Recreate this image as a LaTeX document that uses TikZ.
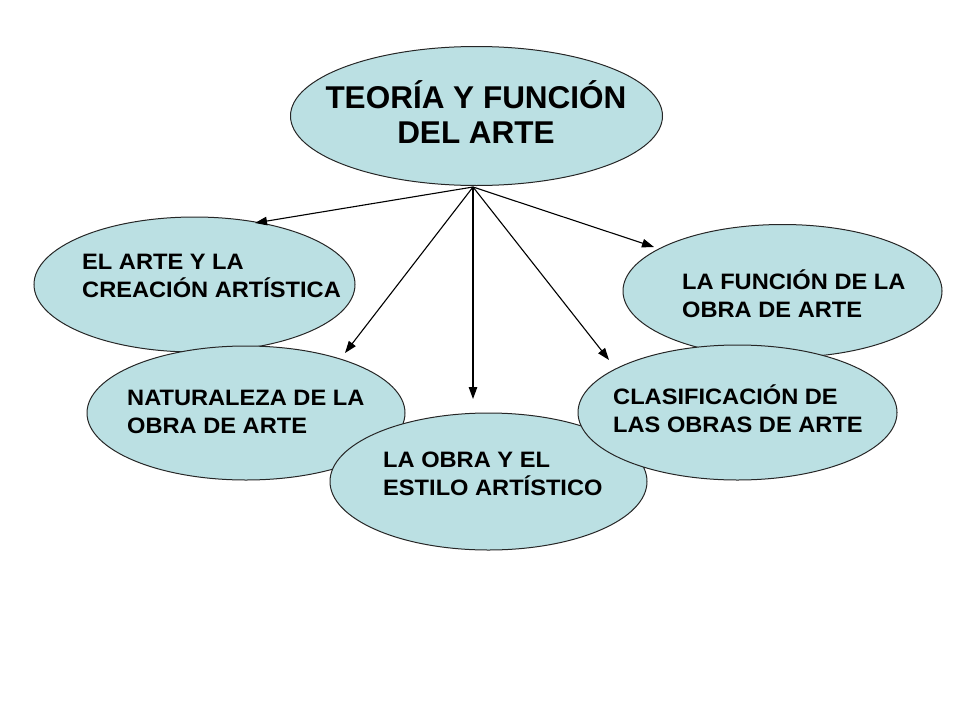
\documentclass[tikz,border=0pt]{standalone}
\usepackage{fontspec}
\setmainfont{Liberation Sans}
\newfontfamily\boxfont{Liberation Sans}[FakeStretch=1.06]
\usetikzlibrary{arrows.meta,%
                shapes.geometric}
\definecolor{pptfill}{RGB}{187,224,227}

\tikzset{
  tema/.style={ellipse, draw=black!85, line width=1pt, fill=pptfill, inner sep=0pt},
  titulo/.style={anchor=base, align=center, inner sep=0pt,
    font=\bfseries\fontsize{31.5}{35}\selectfont},
  rotulo/.style={anchor=base west, align=left, inner sep=0pt,
    font=\boxfont\bfseries\fontsize{22.3}{28}\selectfont},
  flecha/.style={line width=1.1pt, -{Triangle[length=12pt,width=8.5pt]}}
}

\begin{document}
\begin{tikzpicture}[x=1pt, y=-1pt]
\useasboundingbox (0,0) rectangle (960,720);

\node[tema, minimum width=372pt, minimum height=139pt] (teoria) at (476.5,116) {};
\node[titulo] (teoria-txt) at (476,143) {TEORÍA Y FUNCIÓN\\DEL ARTE};

\node[tema, minimum width=321pt, minimum height=135pt] (creacion) at (194.5,284.5) {};
\node[rotulo] (creacion-txt) at (82,297) {EL ARTE Y LA\\CREACIÓN ARTÍSTICA};

\node[tema, minimum width=319pt, minimum height=133pt] (funcion) at (782.5,291) {};
\node[rotulo] (funcion-txt) at (682,317) {LA FUNCIÓN DE LA\\OBRA DE ARTE};

\node[tema, minimum width=318pt, minimum height=134pt] (naturaleza) at (246,413) {};
\node[rotulo] (naturaleza-txt) at (127,433) {NATURALEZA DE LA\\OBRA DE ARTE};

\node[tema, minimum width=317pt, minimum height=137pt] (estilo) at (488.5,481.5) {};
\node[rotulo] (estilo-txt) at (383,495) {LA OBRA Y EL\\ESTILO ARTÍSTICO};

\node[tema, minimum width=319pt, minimum height=135pt] (clasificacion) at (737.5,412.5) {};
\node[rotulo] (clasificacion-txt) at (613,432) {CLASIFICACIÓN DE\\LAS OBRAS DE ARTE};

\coordinate (raiz) at ([xshift=-3.5pt, yshift=-1pt]teoria.south);
\coordinate (creacion-in) at (255,223);
\coordinate (naturaleza-in) at (345,353);
\coordinate (estilo-in) at (473,399);
\coordinate (clasificacion-in) at (609,360);
\coordinate (funcion-in) at (654,247);

\draw[flecha] (raiz) -- (creacion-in);
\draw[flecha] (raiz) -- (naturaleza-in);
\draw[flecha] (raiz) -- (estilo-in);
\draw[flecha] (raiz) -- (clasificacion-in);
\draw[flecha] (raiz) -- (funcion-in);

\end{tikzpicture}
\end{document}
